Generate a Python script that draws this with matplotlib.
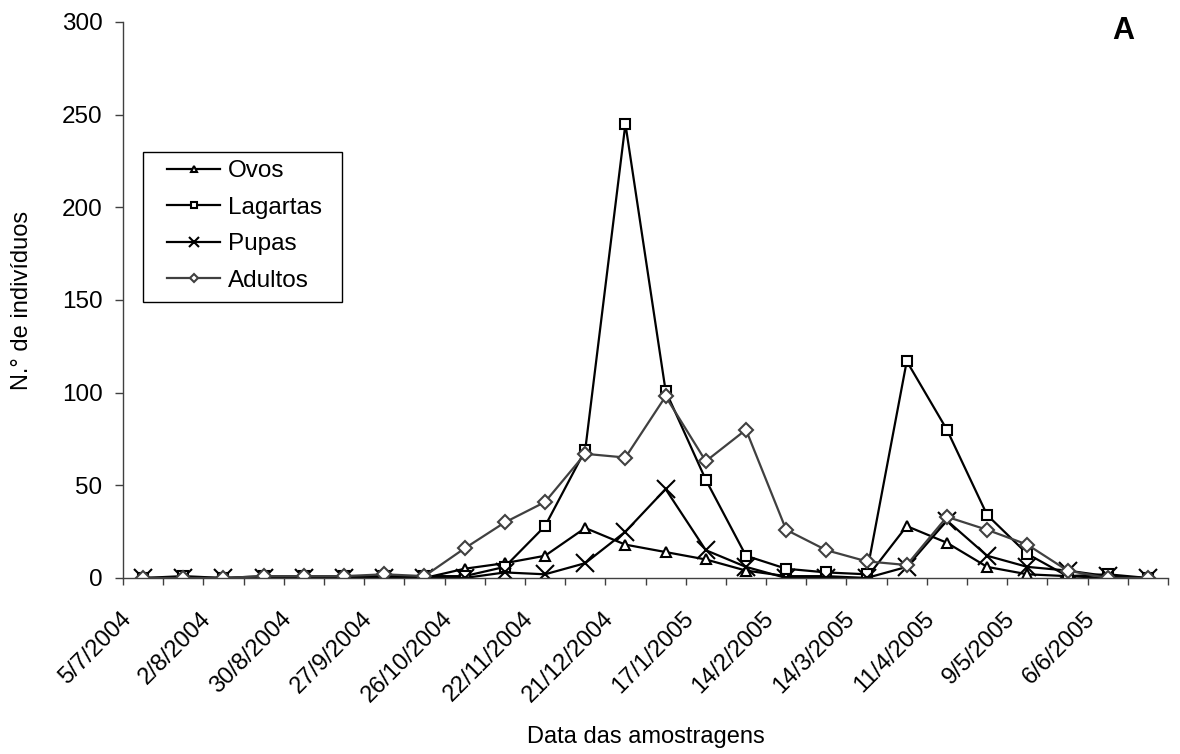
import matplotlib
matplotlib.use("Agg")
import matplotlib.pyplot as plt
import matplotlib.transforms as mtransforms
from matplotlib.patches import Rectangle
import numpy as np

plt.rcParams['font.family'] = ['Liberation Sans', 'DejaVu Sans']

# Sampling dates (every other sampling is labelled on the axis)
date_labels = ["5/7/2004", "2/8/2004", "30/8/2004", "27/9/2004", "26/10/2004",
               "22/11/2004", "21/12/2004", "17/1/2005", "14/2/2005", "14/3/2005",
               "11/4/2005", "9/5/2005", "6/6/2005"]

ovos     = [0, 0, 0, 0, 0, 0, 0, 0, 5, 8, 12, 27, 18, 14, 10, 4, 1, 1, 0, 28, 19, 6, 2, 1, 0, 0]
lagartas = [0, 1, 0, 1, 1, 1, 1, 1, 1, 6, 28, 69, 245, 101, 53, 12, 5, 3, 2, 117, 80, 34, 13, 1, 2, 0]
pupas    = [0, 0, 0, 0, 0, 0, 0, 0, 0, 3, 2, 8, 25, 48, 15, 6, 0, 0, 0, 6, 31, 12, 6, 4, 1, 0]
adultos  = [0, 0, 0, 1, 1, 1, 2, 1, 16, 30, 41, 67, 65, 98, 63, 80, 26, 15, 9, 7, 33, 26, 18, 4, 0, 0]

x = np.arange(len(ovos))

W, H = 1180, 754
fig = plt.figure(figsize=(W / 100, H / 100), dpi=100)
ax = fig.add_axes([123 / W, 1 - 578 / H, 1045 / W, 556 / H])

lw = 1.6
ms = 7.5
ax.plot(x, ovos, color='black', lw=lw, marker='^', ms=ms, mfc='white', mec='black', mew=1.5, label='Ovos')
ax.plot(x, lagartas, color='black', lw=lw, marker='s', ms=ms, mfc='white', mec='black', mew=1.5, label='Lagartas')
ax.plot(x, pupas, color='black', lw=lw, marker='x', ms=13, mec='black', mew=1.5, label='Pupas')
ax.plot(x, adultos, color='#404040', lw=lw, marker='D', ms=ms - 0.5, mfc='white', mec='#404040', mew=1.5, label='Adultos')

ax.set_xlim(-0.5, len(ovos) - 0.5)
ax.set_ylim(0, 300)
ax.set_yticks(np.arange(0, 301, 50))

# Labels at every second sampling, tick marks between categories
ax.set_xticks(x[::2])
ax.set_xticklabels(date_labels, rotation=45, ha='right', va='center',
                   rotation_mode='anchor', fontsize=17)
ax.set_xticks(np.arange(-0.5, len(ovos), 1), minor=True)
ax.tick_params(axis='x', which='major', length=0, pad=27)
ax.tick_params(axis='x', which='minor', length=5, width=1, color='#404040', direction='out')
ax.tick_params(axis='y', length=5.8, width=1, color='#404040', labelsize=17.5, pad=9)
shift = mtransforms.ScaledTranslation(-15.5 / 100, 0, fig.dpi_scale_trans)
for lab in ax.get_xticklabels():
    lab.set_transform(lab.get_transform() + shift)

for side in ['top', 'right']:
    ax.spines[side].set_visible(False)
for side in ['left', 'bottom']:
    ax.spines[side].set_color('#404040')
    ax.spines[side].set_linewidth(1.0)

ax.set_ylabel("N.° de indivíduos", fontsize=17)
ax.yaxis.set_label_coords((33 - 123) / 1045, 0.5)
ax.set_xlabel("Data das amostragens", fontsize=17)
ax.xaxis.set_label_coords(0.5, (578 - 726) / 556)

fig.text(1134 / W, 1 - 16 / H, "A", fontsize=22, fontweight='bold', ha='right', va='top')

leg = ax.legend(loc='upper left', bbox_to_anchor=(167 / W, 1 - 160 / H),
                bbox_transform=fig.transFigure, fontsize=17.5, frameon=False,
                markerscale=0.55, handlelength=2.2, handletextpad=0.3,
                labelspacing=0.6, borderpad=0, borderaxespad=0)
fig.patches.append(Rectangle((143 / W, 1 - 302 / H), 199 / W, 150 / H,
                             transform=fig.transFigure, fill=False,
                             edgecolor='black', linewidth=1.0, zorder=5))

fig.savefig("out.png", dpi=100)
